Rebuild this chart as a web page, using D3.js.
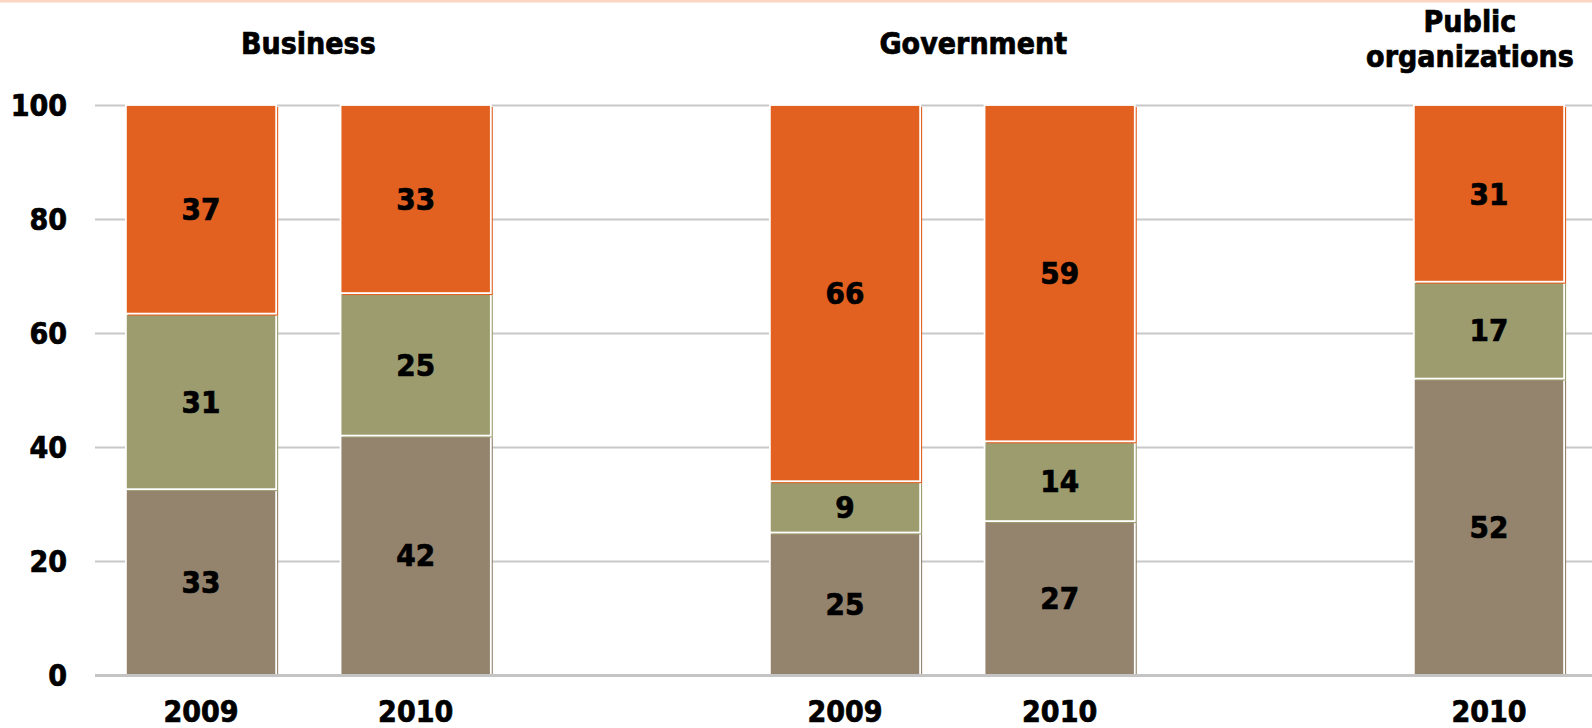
<!DOCTYPE html>
<html>
<head>
<meta charset="utf-8">
<script src="https://cdn.jsdelivr.net/npm/d3@7"></script>
<style>
  html, body { margin: 0; padding: 0; background: #ffffff; }
  svg { display: block; }
  text { font-family: "DejaVu Sans Condensed", "DejaVu Sans", Verdana, sans-serif; font-weight: bold; fill: #000; stroke: #000; stroke-width: 0.7px; }
</style>
</head>
<body>
<svg id="chart" width="1592" height="728"></svg>
<script>
// Sector groups and the bars in each group
const groups = ["Business", "Government", "Public organizations"];
const barGroup = [0, 0, 1, 1, 2];
const years = ["2009", "2010", "2009", "2010", "2010"];

// Stacked shares (%), from bottom to top
const bottomShare = [32.6, 42, 25, 27, 52];
const middleShare = [30.8, 25, 9, 14, 17];
const topShare = [36.6, 33, 66, 59, 31];

const yTicks = [0, 20, 40, 60, 80, 100];

const colors = ["#94836d", "#9c9c6f", "#e26120"];

const W = 1592, H = 728;
const plotLeft = 95, plotRight = 1592;
const fontSize = 30;
const svg = d3.select("#chart");

// top accent rule
svg.append("rect").attr("x", 0).attr("y", 0).attr("width", W).attr("height", 2.5).attr("fill", "#fcd6c2");

// Band slots: bars of each group, with one empty slot between groups
const slots = [];
const barSlot = [];
groups.forEach((g, gi) => {
  if (gi > 0) slots.push("gap" + gi);
  barGroup.forEach((bg, i) => {
    if (bg === gi) { barSlot[i] = "bar" + i; slots.push("bar" + i); }
  });
});

const x = d3.scaleBand().domain(slots).range([93.7, 1596.3]).paddingInner(0.3).paddingOuter(0.15);
const y = d3.scaleLinear().domain([0, 100]).range([675, 105]);

// gridlines
const grid = svg.append("g").attr("transform", `translate(${plotLeft},0)`)
  .call(d3.axisLeft(y).tickValues(yTicks.filter(t => t > 0)).tickSize(-(plotRight - plotLeft)).tickFormat(""));
grid.select(".domain").remove();
grid.selectAll(".tick line").attr("stroke", "#c8c8c8").attr("stroke-width", 2);

// y tick labels
const yAxis = svg.append("g").attr("transform", "translate(67,0)")
  .call(d3.axisLeft(y).tickValues(yTicks).tickSize(0).tickPadding(0).tickFormat(d3.format("d")));
yAxis.select(".domain").remove();
yAxis.attr("font-family", null).attr("font-size", null);
yAxis.selectAll("text").attr("font-size", fontSize).attr("text-anchor", "end").attr("dy", "0.36em");

// stacked bars
const series = [bottomShare, middleShare, topShare];
const shadow = 2;
const bars = svg.append("g");
barSlot.forEach((slot, i) => {
  let acc = 0;
  series.forEach((vals, si) => {
    const v = vals[i];
    const y0 = acc, y1 = acc + v;
    acc = y1;
    const x0 = x(slot), bw = x.bandwidth();
    const top = y(y1), h = y(y0) - y(y1);
    const seg = bars.append("g");
    seg.append("rect").attr("x", x0 + shadow).attr("y", top + shadow)
      .attr("width", bw).attr("height", h).attr("fill", colors[si]);
    seg.append("rect").attr("x", x0).attr("y", top)
      .attr("width", bw).attr("height", h).attr("fill", colors[si])
      .attr("stroke", "#ffffff").attr("stroke-width", 1.8);
    seg.append("text").attr("x", x0 + bw / 2).attr("y", (y(y0) + y(y1)) / 2)
      .attr("dy", "0.36em").attr("text-anchor", "middle").attr("font-size", fontSize + 1)
      .text(d3.format(".0f")(v));
  });
});

// baseline
svg.append("line").attr("x1", plotLeft).attr("x2", plotRight).attr("y1", y(0) + 0.5).attr("y2", y(0) + 0.5)
  .attr("stroke", "#c4c4c4").attr("stroke-width", 3);

// year labels
const xAxis = svg.append("g").attr("transform", "translate(0,722)")
  .call(d3.axisBottom(x).tickSize(0).tickPadding(0)
    .tickFormat(s => s.startsWith("bar") ? years[+s.slice(3)] : ""));
xAxis.select(".domain").remove();
xAxis.attr("font-family", null).attr("font-size", null);
xAxis.selectAll("text").attr("font-size", fontSize).attr("dy", 0).attr("y", 0);

// group headings
const headingShift = [0, 21, -19];
const headingLines = [["Business"], ["Government"], ["Public", "organizations"]];
groups.forEach((g, gi) => {
  const members = barSlot.filter((s, i) => barGroup[i] === gi);
  const cx = d3.mean(members, s => x(s) + x.bandwidth() / 2) + headingShift[gi];
  const lines = headingLines[gi];
  const t = svg.append("text").attr("text-anchor", "middle").attr("font-size", fontSize);
  lines.forEach((ln, li) => {
    t.append("tspan").attr("x", cx).attr("y", 54 - (lines.length - 1 - li) * 35 + (lines.length > 1 ? 13 : 0)).text(ln);
  });
});
</script>
</body>
</html>
